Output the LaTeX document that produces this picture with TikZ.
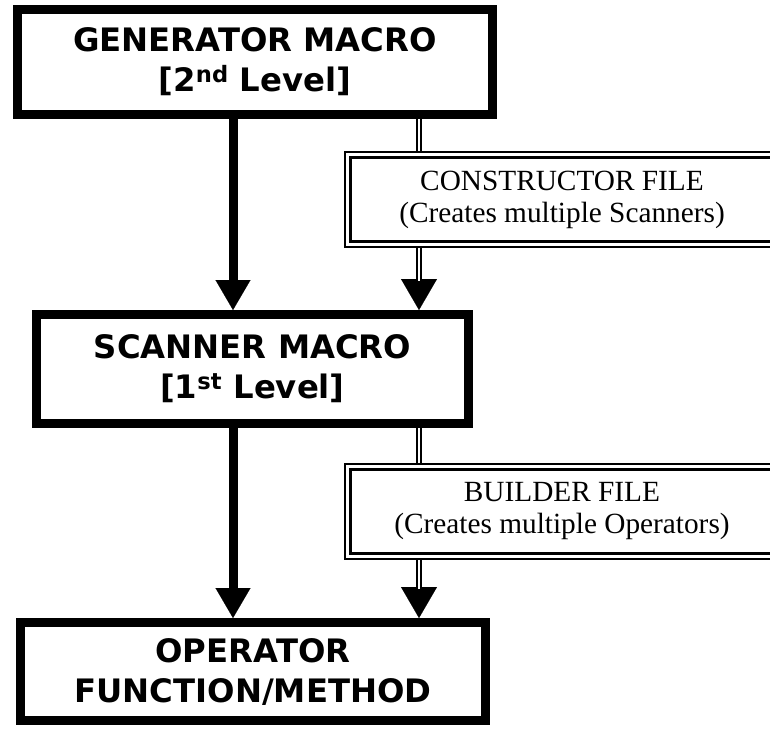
\documentclass[tikz,border=0pt]{standalone}
\usepackage{fontspec}
\setmainfont{Liberation Serif}
\newfontfamily\vsans{DejaVu Sans}
\usetikzlibrary{arrows.meta,calc}
\begin{document}
\begin{tikzpicture}[x=1pt,y=-1pt,
  mainbox/.style={draw, line width=9pt, inner sep=0pt, align=center,
    font=\vsans\bfseries\fontsize{32.3}{40}\selectfont},
  filebox/.style={draw, line width=1.7pt, inner sep=0pt, align=center,
    font=\fontsize{29.3}{32}\selectfont},
  innerframe/.style={line width=2.7pt},
  thickarrow/.style={line width=9pt, -{Triangle[width=35pt,length=30pt,line width=0.1pt]}},
  dblline/.style={draw, double, line width=1.8pt, double distance=2.2pt},
  tipline/.style={line width=0.4pt, -{Triangle[width=36pt,length=31pt,line width=0.1pt]}},
]
\path[use as bounding box, clip] (0,0) rectangle (770,729);
\coordinate (xa) at (233,0);
\coordinate (xb) at (419,0);

\node[mainbox, minimum width=475pt, minimum height=105pt] (gen) at (255,62)
  {GENERATOR MACRO\\{[}2\textsuperscript{nd} Level]};
\node[mainbox, minimum width=432pt, minimum height=109pt] (scan) at (252.5,369)
  {SCANNER MACRO\\{[}1\textsuperscript{st} Level]};
\node[mainbox, minimum width=465pt, minimum height=98pt] (op) at (253,671.5)
  {OPERATOR\\FUNCTION/METHOD};

\node[filebox, minimum width=434.3pt, minimum height=95.3pt] (con) at (562,199.5)
  {CONSTRUCTOR FILE\\(Creates multiple Scanners)};
\draw[innerframe] ($(con.north west)+(6.5,6.5)$) rectangle ($(con.south east)+(-6.5,-6.5)$);
\node[filebox, minimum width=434.3pt, minimum height=95.3pt] (bld) at (562,511.5)
  {BUILDER FILE\\(Creates multiple Operators)};
\draw[innerframe] ($(bld.north west)+(6.5,6.5)$) rectangle ($(bld.south east)+(-6.5,-6.5)$);

% thick connectors
\draw[thickarrow] (gen.south -| xa) -- (scan.north -| xa);
\draw[thickarrow] (scan.south -| xa) -- (op.north -| xa);

% double connectors
\draw[dblline] (gen.south -| xb) -- (con.north -| xb);
\draw[tipline] (con.south -| xb) -- (scan.north -| xb);
\draw[dblline, shorten >=29pt] (con.south -| xb) -- (scan.north -| xb);

\draw[dblline] (scan.south -| xb) -- (bld.north -| xb);
\draw[tipline] (bld.south -| xb) -- (op.north -| xb);
\draw[dblline, shorten >=29pt] (bld.south -| xb) -- (op.north -| xb);
\end{tikzpicture}
\end{document}
